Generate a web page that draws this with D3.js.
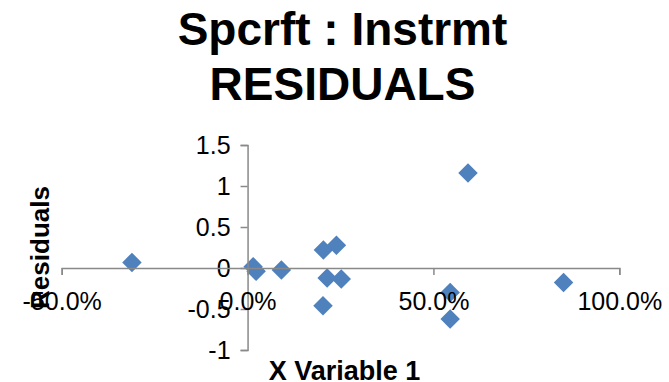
<!DOCTYPE html>
<html>
<head>
<meta charset="utf-8">
<script src="https://cdn.jsdelivr.net/npm/d3@7"></script>
<style>
  html, body { margin: 0; padding: 0; background: #fff; }
  svg { display: block; }
  text { font-family: "Liberation Sans", Arial, sans-serif; fill: #000; }
</style>
</head>
<body>
<svg id="chart" width="669" height="382"></svg>
<script>
const titleLines = ["Spcrft : Instrmt", "RESIDUALS"];
const xLabel = "X Variable 1";
const yLabel = "Residuals";
const xTicks = [-0.5, 0, 0.5, 1.0];
const yTicks = [-1, -0.5, 0, 0.5, 1, 1.5];
const xValues = [-0.311, 0.015, 0.023, 0.091, 0.204, 0.239, 0.214, 0.252, 0.203, 0.593, 0.545, 0.545, 0.850];
const residuals = [0.068, 0.016, -0.041, -0.024, 0.22, 0.276, -0.122, -0.134, -0.46, 1.159, -0.298, -0.622, -0.176];

const svg = d3.select("#chart");
const axisColor = "#898989";

const x = d3.scaleLinear().domain([-0.5, 1.0]).range([61.7, 619.3]);
const y = d3.scaleLinear().domain([-1, 1.5]).range([350, 145]);

// Points (drawn beneath labels)
const diamond = d3.symbol().type(d3.symbolSquare).size(190);
svg.append("g").selectAll("path")
  .data(xValues.map((v, i) => ({ x: v, y: residuals[i] })))
  .join("path")
  .attr("d", diamond)
  .attr("transform", d => `translate(${x(d.x)},${y(d.y)}) rotate(45)`)
  .attr("fill", "#4F81BD");

// Y axis at x = 0
const yAxis = d3.axisLeft(y).tickValues(yTicks).tickSize(7).tickPadding(10)
  .tickFormat(d => String(d));
const gy = svg.append("g").attr("transform", `translate(${x(0)},0)`).call(yAxis);
gy.select(".domain").attr("stroke", axisColor).attr("stroke-width", 1.5);
gy.selectAll(".tick line").attr("stroke", axisColor).attr("stroke-width", 1.5);
gy.selectAll(".tick text").attr("font-size", 25).attr("fill", "#000")
  .attr("font-family", "'Liberation Sans', Arial, sans-serif");

// X axis at y = 0
const pct = d3.format(".1%");
const xAxis = d3.axisBottom(x).tickValues(xTicks).tickSize(7).tickPadding(17)
  .tickFormat(d => pct(d).replace("\u2212", "-"));
const gx = svg.append("g").attr("transform", `translate(0,${y(0)})`).call(xAxis);
gx.select(".domain").attr("stroke", axisColor).attr("stroke-width", 1.5);
gx.selectAll(".tick line").attr("stroke", axisColor).attr("stroke-width", 1.5);
gx.selectAll(".tick text").attr("font-size", 25).attr("fill", "#000")
  .attr("font-family", "'Liberation Sans', Arial, sans-serif");

// Title
svg.append("text").attr("x", 342.5).attr("y", 45).attr("text-anchor", "middle")
  .attr("font-size", 46).attr("font-weight", "bold").text(titleLines[0]);
svg.append("text").attr("x", 342.5).attr("y", 100).attr("text-anchor", "middle")
  .attr("font-size", 46).attr("font-weight", "bold").text(titleLines[1]);

// Axis titles
svg.append("text").attr("x", 344.5).attr("y", 380).attr("text-anchor", "middle")
  .attr("font-size", 27).attr("font-weight", "bold").text(xLabel);
svg.append("text").attr("transform", "translate(49,247.5) rotate(-90)")
  .attr("text-anchor", "middle").attr("font-size", 26).attr("font-weight", "bold").text(yLabel);
</script>
</body>
</html>
